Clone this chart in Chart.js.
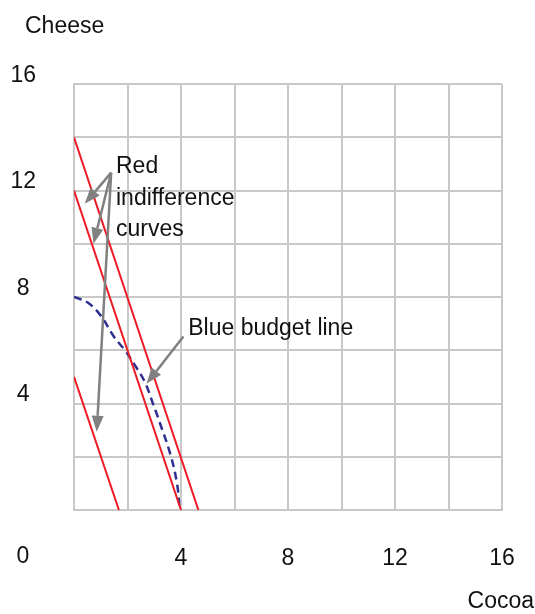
<!DOCTYPE html>
<html>
<head>
<meta charset="utf-8">
<script src="https://cdn.jsdelivr.net/npm/chart.js@4.4.0/dist/chart.umd.min.js"></script>
<style>
  html, body { margin: 0; padding: 0; background: #fff; }
</style>
</head>
<body>
<canvas id="chart" width="535" height="614" style="width:535px;height:614px;display:block"></canvas>
<script>
// cocoa (x) / cheese (y)
const redHighX = [0, 4.65];
const redHighY = [14, 0];
const redMidX = [0, 4];
const redMidY = [12, 0];
const redLowX = [0, 1.68];
const redLowY = [5, 0];

// blue budget line
const budgetX = [0, 0.5, 1.0, 1.5, 1.9, 2.3, 2.65, 2.95, 3.2, 3.6, 3.85, 3.95];
const budgetY = [8, 7.8, 7.3, 6.5, 6.0, 5.4, 4.8, 4.0, 3.3, 2.1, 1.0, 0];

const xTickLabels = [4, 8, 12, 16];
const yTickLabels = [4, 8, 12, 16];

// annotation texts and arrows (data units)
const redNoteLines = ['Red', 'indifference', 'curves'];
const redNoteAt = [1.57, 12.66];
const blueNoteLines = ['Blue budget line'];
const blueNoteAt = [4.27, 6.58];
const redArrowFrom = [1.39, 12.67];
const redArrowTo = [[0.4, 11.5], [0.73, 10.0], [0.85, 2.94]];
const blueArrowFrom = [4.09, 6.52];
const blueArrowTo = [[2.71, 4.74]];

const FONT = '"Liberation Sans", Arial, sans-serif';
const GRID = '#c8c8c8';

function pts(xs, ys) {
    return xs.map((x, i) => ({ x: x, y: ys[i] }));
}

function arrow(ctx, x1, y1, x2, y2) {
    const a = Math.atan2(y2 - y1, x2 - x1);
    const len = 16, half = 6;
    const bx = x2 - len * Math.cos(a), by = y2 - len * Math.sin(a);
    ctx.beginPath();
    ctx.moveTo(x1, y1);
    ctx.lineTo(bx, by);
    ctx.stroke();
    ctx.beginPath();
    ctx.moveTo(x2, y2);
    ctx.lineTo(bx + half * Math.sin(a), by - half * Math.cos(a));
    ctx.lineTo(bx - half * Math.sin(a), by + half * Math.cos(a));
    ctx.closePath();
    ctx.fill();
}

const notesPlugin = {
    id: 'notes',
    afterDatasetsDraw(chart) {
        const ctx = chart.ctx;
        const sx = chart.scales.x, sy = chart.scales.y;
        ctx.save();
        ctx.strokeStyle = '#808080';
        ctx.fillStyle = '#808080';
        ctx.lineWidth = 2.5;
        redArrowTo.forEach(t => arrow(ctx, sx.getPixelForValue(redArrowFrom[0]), sy.getPixelForValue(redArrowFrom[1]),
            sx.getPixelForValue(t[0]), sy.getPixelForValue(t[1])));
        blueArrowTo.forEach(t => arrow(ctx, sx.getPixelForValue(blueArrowFrom[0]), sy.getPixelForValue(blueArrowFrom[1]),
            sx.getPixelForValue(t[0]), sy.getPixelForValue(t[1])));

        ctx.fillStyle = '#111';
        ctx.font = '23px ' + FONT;
        ctx.textAlign = 'left';
        ctx.textBaseline = 'alphabetic';
        redNoteLines.forEach((t, i) => ctx.fillText(t, sx.getPixelForValue(redNoteAt[0]), sy.getPixelForValue(redNoteAt[1]) + i * 31.6));
        blueNoteLines.forEach((t, i) => ctx.fillText(t, sx.getPixelForValue(blueNoteAt[0]), sy.getPixelForValue(blueNoteAt[1]) + i * 31.6));

        // axis names and the shared origin label
        ctx.fillText('Cheese', 25, 33);
        ctx.textAlign = 'right';
        ctx.fillText('Cocoa', 534, 608);
        ctx.textAlign = 'center';
        ctx.textBaseline = 'middle';
        ctx.fillText('0', 23, 557);
        ctx.restore();
    }
};

const red = '#ed1c24';

new Chart(document.getElementById('chart'), {
    type: 'line',
    data: {
        datasets: [
            { data: pts(redHighX, redHighY), borderColor: red, borderWidth: 2 },
            { data: pts(redMidX, redMidY), borderColor: red, borderWidth: 2 },
            { data: pts(redLowX, redLowY), borderColor: red, borderWidth: 2 },
            { data: pts(budgetX, budgetY), borderColor: '#2e3192', borderWidth: 2.5, borderDash: [8, 5], tension: 0.4 }
        ]
    },
    options: {
        responsive: false,
        animation: false,
        devicePixelRatio: 1,
        elements: { point: { radius: 0 } },
        layout: { padding: { top: 84, right: 33, left: 0, bottom: 0 } },
        plugins: { legend: { display: false }, tooltip: { enabled: false } },
        scales: {
            x: {
                type: 'linear', min: 0, max: 16,
                // tick padding also pads the sides, drop that
                afterFit: s => { s.height = 104; s.paddingLeft = 0; s.paddingRight = 0; },
                ticks: {
                    stepSize: 2, autoSkip: false, maxRotation: 0, padding: 35,
                    font: { family: FONT, size: 23 }, color: '#111',
                    callback: v => xTickLabels.includes(v) ? String(v) : ''
                },
                grid: { color: GRID, lineWidth: 2, drawTicks: false },
                border: { color: GRID, width: 2 }
            },
            y: {
                type: 'linear', min: 0, max: 16,
                afterFit: s => { s.width = 74; s.paddingTop = 0; s.paddingBottom = 0; },
                ticks: {
                    stepSize: 2, autoSkip: false, padding: 38, crossAlign: 'center', labelOffset: -8.5,
                    font: { family: FONT, size: 23 }, color: '#111',
                    callback: v => yTickLabels.includes(v) ? String(v) : ''
                },
                grid: { color: GRID, lineWidth: 2, drawTicks: false },
                border: { color: GRID, width: 2 }
            }
        }
    },
    plugins: [notesPlugin]
});
</script>
</body>
</html>
